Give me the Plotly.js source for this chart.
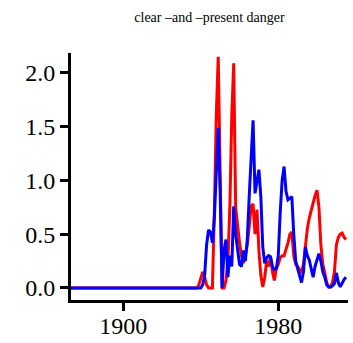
<!DOCTYPE html>
<html>
<head>
<meta charset="utf-8">
<script src="https://cdn.plot.ly/plotly-3.0.1.min.js"></script>
<style>html,body{margin:0;padding:0;background:#fff;}#chart{width:353px;height:343px;}</style>
</head>
<body>
<div id="chart"></div>
<script>
const years = [1873,
  1935,1936,1937,1938,1939,1940,1941,1942,1943,1944,
  1945,1946,1947,1948,1949,1950,1951,1952,1953,1954,
  1955,1956,1957,1958,1959,1960,1961,1962,1963,1964,
  1965,1966,1967,1968,1969,1970,1971,1972,1973,1974,
  1975,1976,1977,1978,1979,1980,1981,1982,1983,1984,
  1985,1986,1987,1988,1989,1990,1991,1992,1993,1994,
  1995,1996,1997,1998,1999,2000,2001,2002,2003,2004,
  2005,2006,2007,2008,2009,2010,2011,2012,2013,2014,
  2015];
const redValues = [0,
  0,0,0,0,0.03,0.1,0.15,0.1,0.03,0,
  0,0,0.7,1.6,2.15,0.9,0,0,0.07,0.25,
  0.75,1.6,2.09,0.75,0.55,0.42,0.3,0.23,0.3,0.4,
  0.57,0.76,0.78,0.5,0.73,0.35,0.12,0.01,0.1,0.25,
  0.2,0.29,0.15,0.07,0.18,0.22,0.28,0.3,0.3,0.35,
  0.42,0.5,0.52,0.3,0.22,0.2,0.17,0.14,0.22,0.4,
  0.55,0.65,0.73,0.8,0.86,0.91,0.75,0.4,0.22,0.14,
  0.05,0.01,0.01,0.05,0.15,0.4,0.47,0.5,0.51,0.47,
  0.45];
const blueValues = [0,
  0,0,0,0,0,0,0.03,0.12,0.4,0.54,
  0.52,0.42,0.65,1.1,1.49,0.9,0,0.35,0.45,0.1,
  0.3,0.2,0.76,0.5,0.33,0.22,0.2,0.35,0.25,0.45,
  0.85,1.2,1.56,0.88,1.0,1.1,0.85,0.38,0.23,0.28,
  0.3,0.29,0.2,0.17,0.18,0.3,0.7,1.0,1.13,0.9,
  0.82,0.84,0.85,0.5,0.25,0.18,0.1,0.05,0.15,0.38,
  0.3,0.26,0.18,0.1,0.2,0.27,0.32,0.25,0.15,0.1,
  0.03,0.01,0.01,0.02,0.04,0.14,0.05,0.01,0.05,0.08,
  0.1];
const xTicks = [1900, 1980];
const yTicks = [0, 0.5, 1.0, 1.5, 2.0];
const titleText = 'clear \u2013and \u2013present danger';

const traces = [
  {x: years, y: redValues, mode: 'lines', line: {color: '#ff0000', width: 3}, hoverinfo: 'skip'},
  {x: years, y: blueValues, mode: 'lines', line: {color: '#0000ff', width: 3}, hoverinfo: 'skip'}
];
const tickFont = {family: 'Liberation Serif, serif', size: 24, color: '#000'};
const layout = {
  width: 353, height: 343,
  margin: {l: 71, r: 5, t: 53, b: 43, pad: 0},
  paper_bgcolor: '#fff', plot_bgcolor: '#fff',
  showlegend: false,
  title: {text: titleText, font: {family: 'Liberation Serif, serif', size: 14, color: '#000'},
          x: 0.5, xref: 'paper', y: 1 - 17/343, yref: 'container', yanchor: 'middle'},
  xaxis: {range: [1873, 2016], tickvals: xTicks, showgrid: false, zeroline: false,
          showline: true, linecolor: '#000', linewidth: 3,
          ticks: 'outside', ticklen: 8, tickwidth: 3, tickcolor: '#000', tickfont: tickFont,
          ticklabelstandoff: -6},
  yaxis: {range: [-0.112, 2.186], tickvals: yTicks, tickformat: '.1f', showgrid: false, zeroline: false,
          showline: true, linecolor: '#000', linewidth: 3,
          ticks: 'outside', ticklen: 8, tickwidth: 3, tickcolor: '#000', tickfont: tickFont}
};
Plotly.newPlot('chart', traces, layout, {displayModeBar: false, staticPlot: true});
</script>
</body>
</html>
